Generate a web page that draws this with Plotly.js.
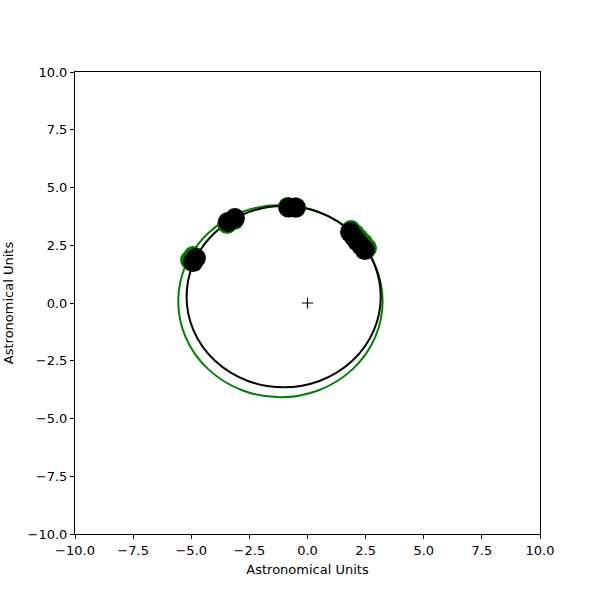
<!DOCTYPE html>
<html>
<head>
<meta charset="utf-8">
<script src="https://cdn.plot.ly/plotly-3.0.1.min.js"></script>
<style>
  body { margin: 0; background: #fff; }
  #orbit { width: 600px; height: 600px; }
</style>
</head>
<body>
<div id="orbit"></div>
<script>
// observed positions (green) and fitted positions (black), AU
var obsX = [-5.05, -4.92, -3.46, -3.16, -0.84, -0.49, 1.87, 2.04, 2.22, 2.39, 2.56];
var obsY = [1.86, 2.03, 3.42, 3.59, 4.16, 4.13, 3.16, 2.99, 2.79, 2.60, 2.38];
var fitX = [-4.92, -4.80, -3.42, -3.12, -0.82, -0.52, 1.83, 1.98, 2.13, 2.30, 2.47];
var fitY = [1.77, 1.95, 3.51, 3.68, 4.13, 4.13, 3.07, 2.88, 2.68, 2.49, 2.29];

// orbit ellipse bounds [x0, x1, y0, y1]
var obsOrbit = [-5.56, 3.23, -4.08, 4.24];
var fitOrbit = [-5.20, 3.15, -3.65, 4.20];

var star = [0, 0];

var data = [
  {
    x: obsX, y: obsY, type: 'scatter', mode: 'markers',
    marker: {color: 'green', size: 20}, hoverinfo: 'x+y'
  },
  {
    x: fitX, y: fitY, type: 'scatter', mode: 'markers',
    marker: {color: 'black', size: 20}, hoverinfo: 'x+y'
  },
  {
    x: [star[0]], y: [star[1]], type: 'scatter', mode: 'markers',
    marker: {symbol: 'cross-thin', size: 8, line: {color: 'black', width: 1.2}}
  }
];

function ellipse(b, color) {
  return {
    type: 'circle', xref: 'x', yref: 'y', layer: 'below',
    x0: b[0], x1: b[1], y0: b[2], y1: b[3],
    line: {color: color, width: 2}
  };
}

var axisStyle = {
  range: [-10, 10], tickvals: [-10, -7.5, -5, -2.5, 0, 2.5, 5, 7.5, 10],
  tickformat: '.1f', ticks: 'outside', ticklen: 4, tickcolor: 'black',
  showline: true, mirror: true, linecolor: 'black', linewidth: 1,
  showgrid: false, zeroline: false,
  tickfont: {size: 13, color: 'black'}
};

var layout = {
  width: 600, height: 600,
  margin: {l: 75, r: 60, t: 72, b: 66},
  font: {family: 'DejaVu Sans', size: 13, color: 'black'},
  showlegend: false,
  plot_bgcolor: 'white', paper_bgcolor: 'white',
  xaxis: Object.assign({}, axisStyle, {title: {text: 'Astronomical Units', font: {size: 13}, standoff: 8}}),
  yaxis: Object.assign({}, axisStyle, {title: {text: 'Astronomical Units', font: {size: 13}, standoff: 11}}),
  shapes: [ellipse(obsOrbit, 'green'), ellipse(fitOrbit, 'black')]
};

Plotly.newPlot('orbit', data, layout, {displayModeBar: false, staticPlot: true});
</script>
</body>
</html>
